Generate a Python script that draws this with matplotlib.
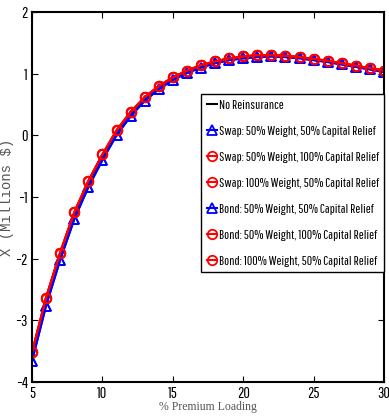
import matplotlib
matplotlib.use("Agg")
import matplotlib.pyplot as plt
from matplotlib import font_manager

# % premium loading
loading = [5, 6, 7, 8, 9, 10, 11, 12, 13, 14, 15, 16, 17, 18, 19, 20, 21, 22, 23, 24, 25, 26, 27, 28, 29, 30]

# red circle series (reinsurance with capital relief)
red_x = [-3.52, -2.63, -1.90, -1.25, -0.74, -0.31, 0.08, 0.38, 0.62, 0.80, 0.94, 1.05, 1.14, 1.20, 1.25, 1.28, 1.30, 1.30,
         1.29, 1.27, 1.24, 1.21, 1.17, 1.13, 1.09, 1.05]
# blue triangle series
blue_x = [-3.66, -2.76, -2.02, -1.36, -0.84, -0.40, 0.00, 0.31, 0.56, 0.75, 0.90, 1.01, 1.10, 1.17, 1.22, 1.25, 1.27, 1.28,
          1.27, 1.25, 1.22, 1.19, 1.15, 1.11, 1.07, 1.03]
# no reinsurance
base_x = [-3.60, -2.70, -1.97, -1.31, -0.80, -0.36, 0.03, 0.34, 0.59, 0.77, 0.92, 1.03, 1.12, 1.18, 1.23, 1.26, 1.28, 1.29,
          1.28, 1.26, 1.23, 1.20, 1.16, 1.12, 1.08, 1.04]

labels = ["No Reinsurance",
          "Swap: 50% Weight, 50% Capital Relief",
          "Swap: 50% Weight, 100% Capital Relief",
          "Swap: 100% Weight, 50% Capital Relief",
          "Bond: 50% Weight, 50% Capital Relief",
          "Bond: 50% Weight, 100% Capital Relief",
          "Bond: 100% Weight, 50% Capital Relief"]

# narrow sans font if there is one, else plain Liberation Sans smaller
have = set(f.name for f in font_manager.fontManager.ttflist)
if "Pathway Gothic One" in have:
    narrow = ["Pathway Gothic One", "Liberation Sans"]
    leg_size, tick_size, lspace, bpad = 9.6, 11.5, 1.1, 0.4
else:
    narrow = ["Liberation Sans", "DejaVu Sans"]
    leg_size, tick_size, lspace, bpad = 6.4, 8.5, 1.9, 0.5

fig = plt.figure(figsize=(3.89, 4.17), dpi=100)
ax = fig.add_axes([0.0823, 0.084, 0.905, 0.887])

ax.plot(loading, base_x, color="black", lw=1.5, label=labels[0])
series = [(blue_x, "blue", "^"), (red_x, "red", "o"), (red_x, "red", "o"),
          (blue_x, "blue", "^"), (red_x, "red", "o"), (red_x, "red", "o")]
for (vals, col, mk), lab in zip(series, labels[1:]):
    ax.plot(loading, vals, color=col, lw=1.5, marker=mk, markersize=6.8,
            markerfacecolor="none", markeredgewidth=1.3, label=lab)

ax.set_xlim(5, 30)
ax.set_ylim(-4, 2)
ax.set_xticks([5, 10, 15, 20, 25, 30])
ax.set_yticks([-4, -3, -2, -1, 0, 1, 2])
ax.tick_params(direction="in", top=True, right=True, length=4, width=0.8, pad=3)
for lbl in ax.get_xticklabels() + ax.get_yticklabels():
    lbl.set_family(narrow)
    lbl.set_fontsize(tick_size)
for sp in ax.spines.values():
    sp.set_linewidth(1.5)

ax.set_xlabel("% Premium Loading", family="Liberation Serif", fontsize=8.5, color="#555555", labelpad=0)
ax.set_ylabel("X (Millions $)", family="Liberation Mono", fontsize=10, color="#555555", labelpad=1)

leg = ax.legend(loc="upper right", bbox_to_anchor=(1.0, 0.778), borderaxespad=0,
                handlelength=0.8, handletextpad=0.1, labelspacing=lspace, borderpad=bpad,
                fancybox=False, edgecolor="black", framealpha=1,
                prop={"family": narrow, "size": leg_size})
leg.get_frame().set_linewidth(1.0)

fig.savefig("out.png", dpi=100)
